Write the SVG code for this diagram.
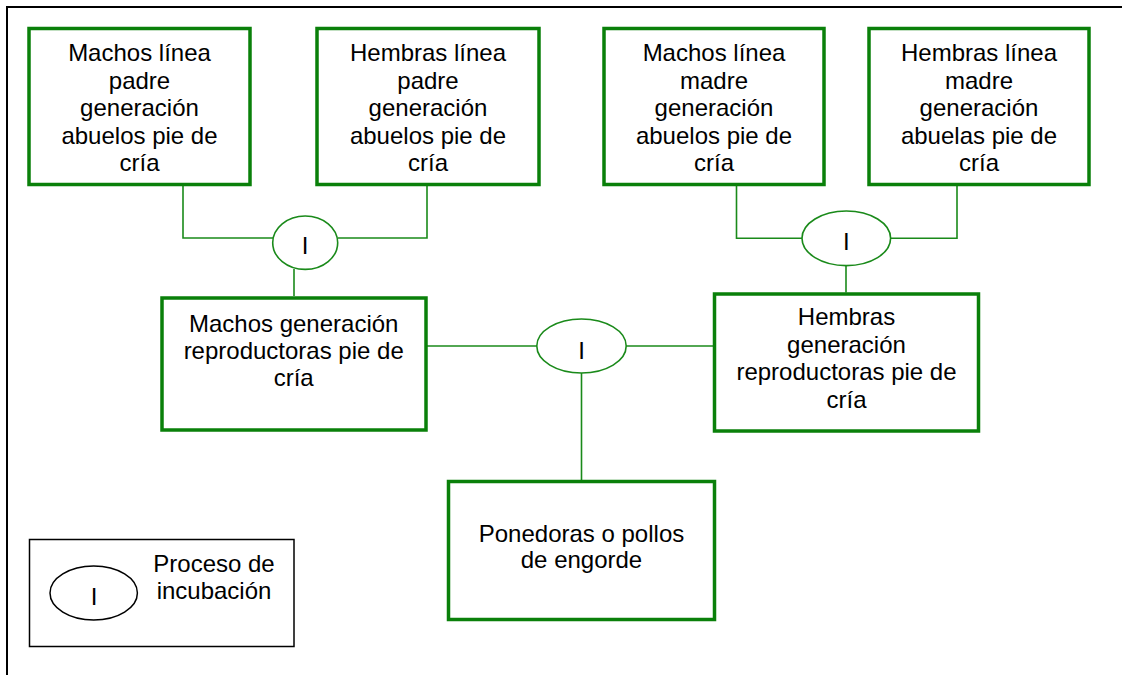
<svg xmlns="http://www.w3.org/2000/svg" width="1124" height="675" viewBox="0 0 1124 675">
<style>
.box{fill:#fff;stroke:#0a800a;stroke-width:3.5}
.ell{fill:#fff;stroke:#1a8a1a;stroke-width:1.6}
.con{fill:none;stroke:#1a8a1a;stroke-width:1.6}
text{font-family:"Liberation Sans",Arial,sans-serif;font-size:24px;fill:#000;text-anchor:middle}
</style>
<rect x="0" y="0" width="1124" height="675" fill="#fff"/>
<g id="frame" fill="none" stroke="#000" stroke-width="2">
<path d="M7,675 V7 H1122"/>
</g>
<g id="connectors">
<path class="con" d="M183,185 V238 H273"/>
<path class="con" d="M427,185 V238 H338"/>
<path class="con" d="M294,269 V296"/>
<path class="con" d="M736.5,185 V238.3 H802"/>
<path class="con" d="M957,185 V238.3 H890.5"/>
<path class="con" d="M846,265.7 V292.5"/>
<path class="con" d="M427,346 H537"/>
<path class="con" d="M626,346 H713"/>
<path class="con" d="M581.5,373 V480"/>
</g>
<g id="n1">
<rect class="box" x="29" y="28.5" width="221" height="156"/>
<text x="139.5" y="61">Machos línea</text>
<text x="139.5" y="88.5">padre</text>
<text x="139.5" y="116">generación</text>
<text x="139.5" y="143.5">abuelos pie de</text>
<text x="139.5" y="171">cría</text>
</g>
<g id="n2">
<rect class="box" x="317" y="28.5" width="222" height="156"/>
<text x="428" y="61">Hembras línea</text>
<text x="428" y="88.5">padre</text>
<text x="428" y="116">generación</text>
<text x="428" y="143.5">abuelos pie de</text>
<text x="428" y="171">cría</text>
</g>
<g id="n3">
<rect class="box" x="604" y="28.5" width="220" height="156"/>
<text x="714" y="61">Machos línea</text>
<text x="714" y="88.5">madre</text>
<text x="714" y="116">generación</text>
<text x="714" y="143.5">abuelos pie de</text>
<text x="714" y="171">cría</text>
</g>
<g id="n4">
<rect class="box" x="869" y="28.5" width="220" height="156"/>
<text x="979" y="61">Hembras línea</text>
<text x="979" y="88.5">madre</text>
<text x="979" y="116">generación</text>
<text x="979" y="143.5">abuelas pie de</text>
<text x="979" y="171">cría</text>
</g>
<g id="inc1">
<ellipse class="ell" cx="305.2" cy="242.7" rx="32.5" ry="26.7"/>
<text x="305.2" y="254">I</text>
</g>
<g id="inc2">
<ellipse class="ell" cx="846.3" cy="238.3" rx="44.3" ry="27.3"/>
<text x="846.3" y="250">I</text>
</g>
<g id="n5">
<rect class="box" x="162" y="298" width="264" height="132"/>
<text x="293.7" y="332">Machos generación</text>
<text x="293.7" y="359">reproductoras pie de</text>
<text x="293.7" y="386">cría</text>
</g>
<g id="n6">
<rect class="box" x="714.5" y="294" width="264" height="137"/>
<text x="846.5" y="325">Hembras</text>
<text x="846.5" y="352.5">generación</text>
<text x="846.5" y="380">reproductoras pie de</text>
<text x="846.5" y="407.5">cría</text>
</g>
<g id="inc3">
<ellipse class="ell" cx="581.5" cy="346" rx="44.7" ry="27"/>
<text x="581.5" y="359">I</text>
</g>
<g id="n7">
<rect class="box" x="448.5" y="481.5" width="266" height="138"/>
<text x="581.5" y="541.7">Ponedoras o pollos</text>
<text x="581.5" y="568.3">de engorde</text>
</g>
<g id="legend">
<rect x="29.5" y="539.5" width="264.5" height="107" fill="#fff" stroke="#000" stroke-width="1.5"/>
<ellipse cx="93.7" cy="593" rx="43.7" ry="27" fill="#fff" stroke="#000" stroke-width="1.5"/>
<text x="94" y="604.5">I</text>
<text x="214" y="571.7">Proceso de</text>
<text x="214" y="599">incubación</text>
</g>
</svg>
